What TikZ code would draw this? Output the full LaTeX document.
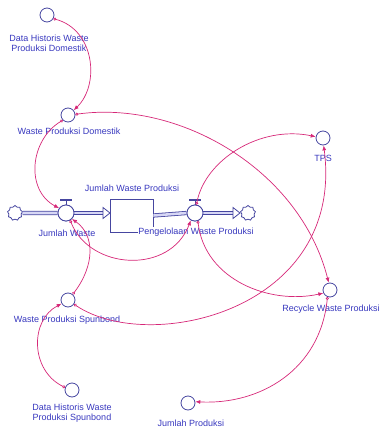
\documentclass[tikz,border=0pt]{standalone}
\usepackage{fontspec}
\setmainfont{Liberation Sans}
\usetikzlibrary{arrows.meta,shapes.symbols,calc}
\definecolor{lnk}{RGB}{214,40,120}
\definecolor{obj}{RGB}{70,70,160}
\definecolor{txt}{RGB}{55,55,190}
\definecolor{pipefill}{RGB}{215,215,245}
\begin{document}
\begin{tikzpicture}[x=1pt,y=-1pt,font=\fontsize{9}{10}\selectfont,
  aux/.style={circle,draw=obj,line width=0.8pt,minimum size=14pt,inner sep=0pt,fill=white},
  valve/.style={circle,draw=obj,line width=0.8pt,minimum size=16pt,inner sep=0pt,fill=white},
  lab/.style={text=txt,inner sep=0.5pt,align=center},
  cloudy/.style={cloud,cloud puffs=9,draw=obj,line width=0.8pt,minimum width=15pt,minimum height=15pt,inner sep=0pt,fill=white,aspect=1},
  lnkarrow/.style={draw=lnk,line width=0.7pt,{Circle[open,length=3pt,width=3pt]}-{Latex[length=5pt,width=4pt]}},
  pipe/.style={draw=obj,double=pipefill,double distance=2.6pt,line width=0.8pt},
  tri/.style={draw=obj,line width=0.8pt,fill=white,line join=miter},
  handle/.style={draw=obj,line width=0.8pt}]
\useasboundingbox (0,0) rectangle (381,428);

% stock
\node[draw=obj,line width=0.8pt,minimum width=43pt,minimum height=33pt,inner sep=0pt] (stock) at (131.5,215.5) {};

% clouds
\node[cloudy] (cl) at (15,213) {};
\node[cloudy] (cr) at (248,213) {};

% valves
\node[valve] (jw) at (66,213) {};
\node[valve] (pw) at (195,213) {};

% pipes
\draw[pipe] (cl.east) -- (jw.west);
\draw[pipe] (jw.east) -- (103,213);
\draw[tri] (103,207.5) -- (110,213) -- (103,218.5) -- cycle;
\draw[pipe] (stock.east) -- (pw.west);
\draw[pipe] (pw.east) -- (233,213);
\draw[tri] (233,207.5) -- (240,213) -- (233,218.5) -- cycle;
\node[valve] at (jw) {};
\node[valve] at (pw) {};
\draw[handle] (jw.north) -- ++(0,-4);
\draw[handle,line width=1.6pt] ($(jw.north)+(-6,-4.5)$) -- ++(12,0);
\draw[handle] (pw.north) -- ++(0,-4);
\draw[handle,line width=1.6pt] ($(pw.north)+(-6,-4.5)$) -- ++(12,0);

% auxiliaries
\node[aux] (dhd) at (47,15) {};
\node[aux] (wpd) at (68,115) {};
\node[aux] (tps) at (323,138) {};
\node[aux] (rec) at (330,290) {};
\node[aux] (wps) at (68,300) {};
\node[aux] (dhs) at (72,390) {};
\node[aux] (jp) at (188,403) {};

% labels
\node[lab] (dhdL) at (49,43) {Data Historis Waste\\Produksi Domestik};
\node[lab] (wpdL) at (69,131) {Waste Produksi Domestik};
\node[lab] (tpsL) at (323,158) {TPS};
\node[lab] (stockL) at (132,188) {Jumlah Waste Produksi};
\node[lab] (jwL) at (67,233) {Jumlah Waste};
\node[lab,fill=white] (pwL) at (196,232) {Pengelolaan Waste Produksi};
\node[lab] (recL) at (331,309) {Recycle Waste Produksi};
\node[lab] (wpsL) at (67,320) {Waste Produksi Spunbond};
\node[lab] (dhsL) at (72,413) {Data Historis Waste\\Produksi Spunbond};
\node[lab] (jpL) at (191,423) {Jumlah Produksi};

% links
\draw[lnkarrow] (dhd.-30) .. controls (95,30) and (100,85) .. (wpd.40);
\draw[lnkarrow] (wpd.-135) .. controls (30,140) and (25,190) .. (jw.145);
\draw[lnkarrow] (wpd.5) .. controls (180,100) and (300,170) .. (rec.100);
\draw[lnkarrow] (pw.80) .. controls (205,160) and (260,125) .. (tps.170);
\draw[lnkarrow] (jw.-60) .. controls (90,270) and (170,275) .. (pw.-120);
\draw[lnkarrow] (pw.-70) .. controls (205,280) and (270,305) .. (rec.-155);
\draw[lnkarrow] (wps.-35) .. controls (150,355) and (345,310) .. (tps.-85);
\draw[lnkarrow] (wps.50) .. controls (95,265) and (95,235) .. (jw.-45);
\draw[lnkarrow] (dhs.160) .. controls (30,370) and (30,320) .. (wps.-150);
\draw[lnkarrow] (rec.-110) .. controls (320,370) and (260,405) .. (jp.10);
\end{tikzpicture}
\end{document}
